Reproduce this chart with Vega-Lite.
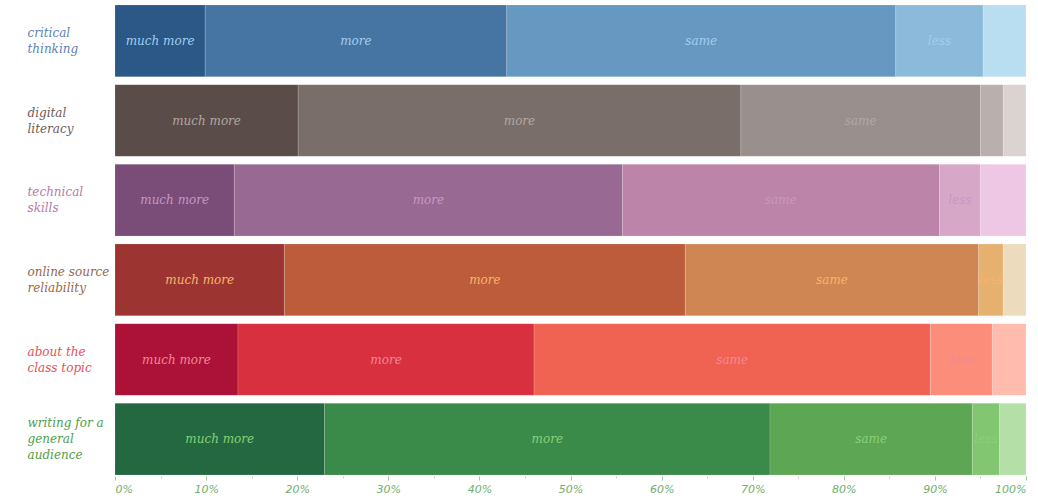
{
  "$schema": "https://vega.github.io/schema/vega-lite/v6.json",
  "width": 911,
  "height": 478,
  "padding": {"left": 27, "top": 1, "right": 0, "bottom": 0},
  "autosize": {"type": "pad"},
  "config": {"view": {"stroke": null}},
  "data": {"values": [
    {"topic": "critical thinking", "response": "much more", "rank": 1, "pct": 9.9},
    {"topic": "critical thinking", "response": "more", "rank": 2, "pct": 33.1},
    {"topic": "critical thinking", "response": "same", "rank": 3, "pct": 42.7},
    {"topic": "critical thinking", "response": "less", "rank": 4, "pct": 9.6},
    {"topic": "critical thinking", "response": "much less", "rank": 5, "pct": 4.7},
    {"topic": "digital literacy", "response": "much more", "rank": 1, "pct": 20.1},
    {"topic": "digital literacy", "response": "more", "rank": 2, "pct": 48.6},
    {"topic": "digital literacy", "response": "same", "rank": 3, "pct": 26.3},
    {"topic": "digital literacy", "response": "less", "rank": 4, "pct": 2.5},
    {"topic": "digital literacy", "response": "much less", "rank": 5, "pct": 2.5},
    {"topic": "technical skills", "response": "much more", "rank": 1, "pct": 13.1},
    {"topic": "technical skills", "response": "more", "rank": 2, "pct": 42.6},
    {"topic": "technical skills", "response": "same", "rank": 3, "pct": 34.8},
    {"topic": "technical skills", "response": "less", "rank": 4, "pct": 4.5},
    {"topic": "technical skills", "response": "much less", "rank": 5, "pct": 5.0},
    {"topic": "online source reliability", "response": "much more", "rank": 1, "pct": 18.6},
    {"topic": "online source reliability", "response": "more", "rank": 2, "pct": 44.0},
    {"topic": "online source reliability", "response": "same", "rank": 3, "pct": 32.2},
    {"topic": "online source reliability", "response": "less", "rank": 4, "pct": 2.7},
    {"topic": "online source reliability", "response": "much less", "rank": 5, "pct": 2.5},
    {"topic": "about the class topic", "response": "much more", "rank": 1, "pct": 13.5},
    {"topic": "about the class topic", "response": "more", "rank": 2, "pct": 32.5},
    {"topic": "about the class topic", "response": "same", "rank": 3, "pct": 43.5},
    {"topic": "about the class topic", "response": "less", "rank": 4, "pct": 6.8},
    {"topic": "about the class topic", "response": "much less", "rank": 5, "pct": 3.7},
    {"topic": "writing for a general audience", "response": "much more", "rank": 1, "pct": 23.0},
    {"topic": "writing for a general audience", "response": "more", "rank": 2, "pct": 48.9},
    {"topic": "writing for a general audience", "response": "same", "rank": 3, "pct": 22.2},
    {"topic": "writing for a general audience", "response": "less", "rank": 4, "pct": 3.0},
    {"topic": "writing for a general audience", "response": "much less", "rank": 5, "pct": 2.9}
  ]},
  "transform": [
    {"stack": "pct", "groupby": ["topic"], "sort": [{"field": "rank", "order": "ascending"}], "as": ["x0", "x1"]},
    {"calculate": "(datum.x0 + datum.x1) / 2", "as": "mid"},
    {"calculate": "datum.topic + '|' + datum.response", "as": "key"}
  ],
  "encoding": {
    "y": {
      "field": "topic",
      "type": "nominal",
      "sort": ["critical thinking", "digital literacy", "technical skills", "online source reliability", "about the class topic", "writing for a general audience"],
      "scale": {"paddingInner": 0.1, "paddingOuter": 0.05},
      "axis": {
        "title": null,
        "domain": false,
        "ticks": false,
        "labelAlign": "left",
        "labelPadding": 88,
        "labelFont": "DejaVu Serif",
        "labelFontStyle": "italic",
        "labelFontSize": 12,
        "labelLineHeight": 16,
        "labelBaseline": "middle",
        "labelLimit": 0,
        "labelOffset": {
          "condition": {"test": "datum.value == 'writing for a general audience'", "value": -16},
          "value": -8
        },
        "labelExpr": "datum.value == 'critical thinking' ? ['critical', 'thinking'] : datum.value == 'digital literacy' ? ['digital', 'literacy'] : datum.value == 'technical skills' ? ['technical', 'skills'] : datum.value == 'online source reliability' ? ['online source', 'reliability'] : datum.value == 'about the class topic' ? ['about the', 'class topic'] : ['writing for a', 'general', 'audience']",
        "labelColor": {
          "condition": [
            {"test": "datum.value == 'critical thinking'", "value": "#5b82b5"},
            {"test": "datum.value == 'digital literacy'", "value": "#6b5d59"},
            {"test": "datum.value == 'technical skills'", "value": "#b57aaa"},
            {"test": "datum.value == 'online source reliability'", "value": "#94684c"},
            {"test": "datum.value == 'about the class topic'", "value": "#e5505a"}
          ],
          "value": "#4f9d4b"
        }
      }
    }
  },
  "layer": [
    {
      "mark": {"type": "bar", "stroke": "#ffffff", "strokeOpacity": 0.15, "strokeWidth": 1},
      "encoding": {
        "x": {
          "field": "x0",
          "type": "quantitative",
          "scale": {"domain": [0, 100], "nice": false},
          "axis": {
            "title": null,
            "orient": "bottom",
            "values": [0, 10, 20, 30, 40, 50, 60, 70, 80, 90, 100],
            "labelExpr": "datum.value + '%'",
            "domain": false,
            "grid": false,
            "tickSize": 4,
            "tickColor": "#9cc99a",
            "labelColor": "#6fae69",
            "labelFont": "DejaVu Sans",
            "labelFontStyle": "italic",
            "labelFontSize": 11,
            "labelPadding": 3,
            "offset": -3
          }
        },
        "x2": {"field": "x1"},
        "color": {
          "field": "key",
          "type": "nominal",
          "legend": null,
          "scale": {
            "domain": [
              "critical thinking|much more", "critical thinking|more", "critical thinking|same", "critical thinking|less", "critical thinking|much less",
              "digital literacy|much more", "digital literacy|more", "digital literacy|same", "digital literacy|less", "digital literacy|much less",
              "technical skills|much more", "technical skills|more", "technical skills|same", "technical skills|less", "technical skills|much less",
              "online source reliability|much more", "online source reliability|more", "online source reliability|same", "online source reliability|less", "online source reliability|much less",
              "about the class topic|much more", "about the class topic|more", "about the class topic|same", "about the class topic|less", "about the class topic|much less",
              "writing for a general audience|much more", "writing for a general audience|more", "writing for a general audience|same", "writing for a general audience|less", "writing for a general audience|much less"
            ],
            "range": [
              "#2b5886", "#4675a4", "#6698c2", "#8cbadb", "#badef1",
              "#594c49", "#796e6a", "#998f8c", "#b9afac", "#dbd3d0",
              "#7a4c78", "#986993", "#bc84a8", "#d7a7c8", "#eec7e4",
              "#9c3531", "#bc5c3b", "#d08652", "#e6b06e", "#eddbbe",
              "#ac1237", "#d93040", "#f06252", "#fb8d7a", "#ffbbad",
              "#236840", "#3a8a4a", "#5ca654", "#82c672", "#b4e0a7"
            ]
          }
        }
      }
    },
    {
      "transform": [
        {"filter": "datum.response != 'much less' && !(datum.topic == 'digital literacy' && datum.response == 'less')"}
      ],
      "mark": {"type": "text", "font": "DejaVu Serif", "fontStyle": "italic", "fontSize": 12, "baseline": "middle", "align": "center"},
      "encoding": {
        "x": {
          "field": "mid",
          "type": "quantitative",
          "axis": {
            "title": null,
            "orient": "bottom",
            "values": [5, 15, 25, 35, 45, 55, 65, 75, 85, 95],
            "labels": false,
            "domain": false,
            "grid": false,
            "tickSize": 2,
            "tickColor": "#b5d9b2",
            "offset": -3
          }
        },
        "text": {"field": "response"},
        "fill": {
          "field": "topic",
          "type": "nominal",
          "legend": null,
          "scale": {
            "domain": ["critical thinking", "digital literacy", "technical skills", "online source reliability", "about the class topic", "writing for a general audience"],
            "range": ["#a3cdf0", "#b3a7a4", "#c797c3", "#f7b56c", "#f3879a", "#8ad07a"]
          }
        }
      }
    }
  ],
  "resolve": {"axis": {"x": "independent"}}
}
